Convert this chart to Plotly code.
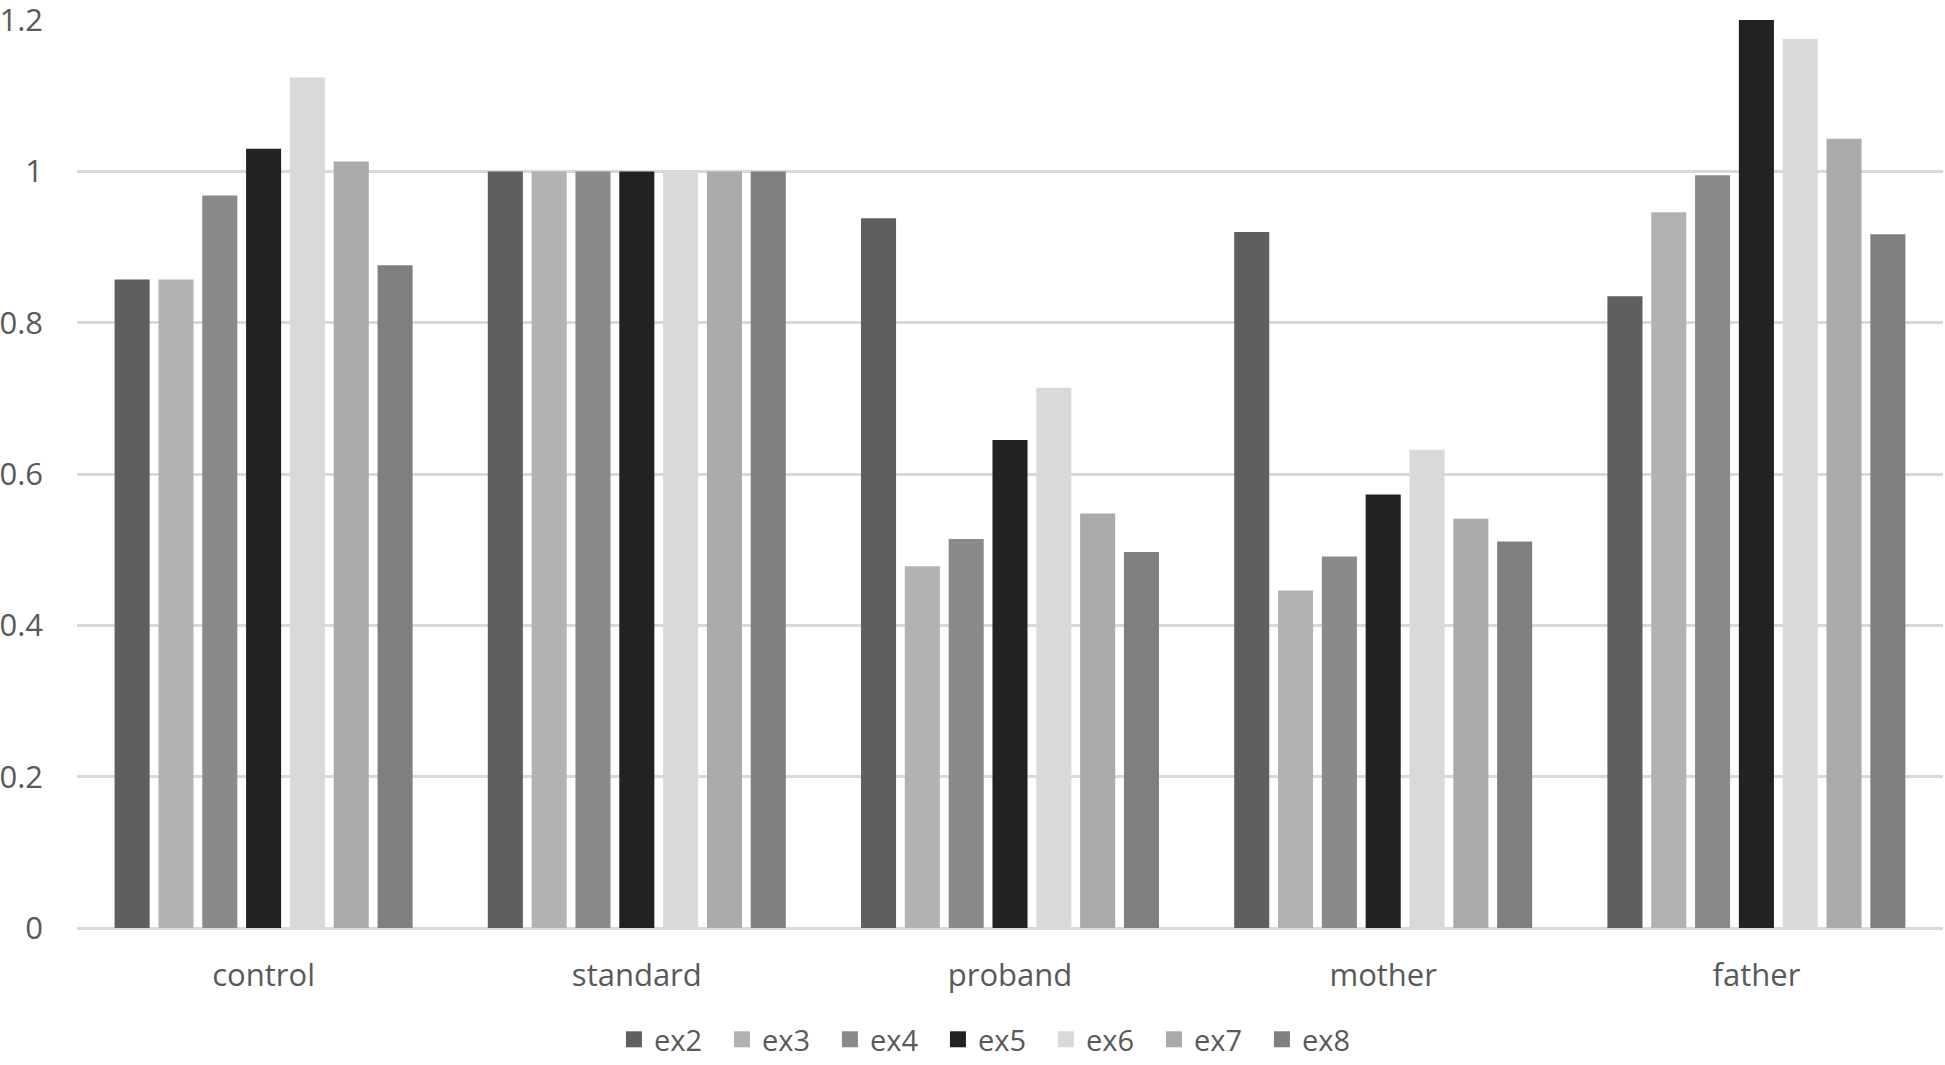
import plotly.graph_objects as go

categories = ["control", "standard", "proband", "mother", "father"]
series_names = ["ex2", "ex3", "ex4", "ex5", "ex6", "ex7", "ex8"]
ex2 = [0.857, 1.0, 0.938, 0.920, 0.835]
ex3 = [0.857, 1.0, 0.478, 0.446, 0.946]
ex4 = [0.968, 1.0, 0.514, 0.491, 0.995]
ex5 = [1.030, 1.0, 0.645, 0.573, 1.22]
ex6 = [1.124, 1.0, 0.714, 0.632, 1.175]
ex7 = [1.013, 1.0, 0.548, 0.541, 1.043]
ex8 = [0.876, 1.0, 0.497, 0.511, 0.917]
y_ticks = [0, 0.2, 0.4, 0.6, 0.8, 1.0, 1.2]
y_tick_labels = ["0", "0.2", "0.4", "0.6", "0.8", "1", "1.2"]

values = [ex2, ex3, ex4, ex5, ex6, ex7, ex8]
colors = ["#5f5f5f", "#b2b2b2", "#8a8a8a", "#222222", "#d9d9d9", "#aaaaaa", "#7f7f7f"]

fig = go.Figure()
for name, vals, col in zip(series_names, values, colors):
    fig.add_trace(go.Bar(x=categories, y=vals, name=name, marker=dict(color=col, line=dict(width=0)),
                         cliponaxis=True, showlegend=False, legendgroup=name))
# legend entries with larger square swatches
for name, col in zip(series_names, colors):
    fig.add_trace(go.Scatter(x=[None], y=[None], mode="markers", name=name, legendgroup=name,
                             marker=dict(symbol="square", size=18, color=col), showlegend=True,
                             hoverinfo="skip"))

font_family = "Open Sans, Liberation Sans, sans-serif"
text_color = "#595959"

fig.update_layout(
    width=1945, height=1065,
    margin=dict(l=77, r=2, t=20, b=137, autoexpand=False),
    paper_bgcolor="white", plot_bgcolor="white",
    barmode="group", bargap=0.178, bargroupgap=0.2,
    font=dict(family=font_family, size=31, color=text_color),
    legend=dict(orientation="h", x=0.51, xref="container", xanchor="center",
                y=0.024, yref="container", yanchor="middle",
                font=dict(size=29, color=text_color), entrywidth=63, entrywidthmode="pixels",
                itemsizing="trace", itemclick=False),
    showlegend=True,
)
fig.update_yaxes(range=[0, 1.2001], tickvals=y_ticks, ticktext=y_tick_labels,
                 showgrid=True, gridcolor="#d9d9d9", gridwidth=2.5,
                 zeroline=True, zerolinecolor="#d9d9d9", zerolinewidth=3,
                 showline=False, ticks="", ticklabelstandoff=33, automargin=False,
                 ticklabeloverflow="allow",
                 tickfont=dict(size=31, color=text_color))
fig.update_xaxes(showgrid=False, showline=False, ticks="", ticklabelstandoff=26, automargin=False,
                 tickfont=dict(size=31, color=text_color))

fig.write_html("out.html", post_script="document.body.style.margin='0';",
               config={"displayModeBar": False})
